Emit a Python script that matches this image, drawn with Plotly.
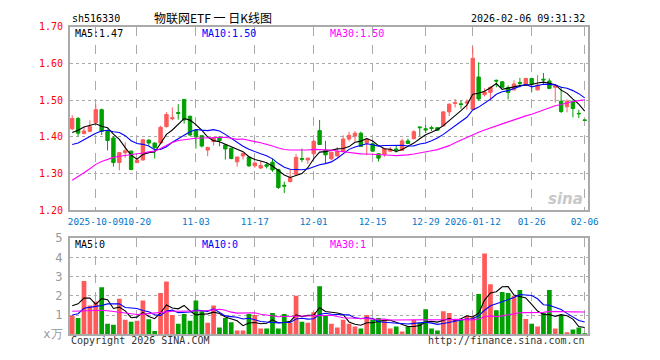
import plotly.graph_objects as go
import pandas as pd

# ---------------- data ----------------
dates = [
    "2025-09-25", "2025-09-26", "2025-09-29", "2025-09-30", "2025-10-09", "2025-10-10",
    "2025-10-13", "2025-10-14", "2025-10-15", "2025-10-16", "2025-10-17", "2025-10-20",
    "2025-10-21", "2025-10-22", "2025-10-23", "2025-10-24", "2025-10-27", "2025-10-28",
    "2025-10-29", "2025-10-30", "2025-10-31", "2025-11-03", "2025-11-04", "2025-11-05",
    "2025-11-06", "2025-11-07", "2025-11-10", "2025-11-11", "2025-11-12", "2025-11-13",
    "2025-11-14", "2025-11-17", "2025-11-18", "2025-11-19", "2025-11-20", "2025-11-21",
    "2025-11-24", "2025-11-25", "2025-11-26", "2025-11-27", "2025-11-28", "2025-12-01",
    "2025-12-02", "2025-12-03", "2025-12-04", "2025-12-05", "2025-12-08", "2025-12-09",
    "2025-12-10", "2025-12-11", "2025-12-12", "2025-12-15", "2025-12-16", "2025-12-17",
    "2025-12-18", "2025-12-19", "2025-12-22", "2025-12-23", "2025-12-24", "2025-12-26",
    "2025-12-29", "2025-12-30", "2025-12-31", "2026-01-05", "2026-01-06", "2026-01-07",
    "2026-01-08", "2026-01-09", "2026-01-12", "2026-01-13", "2026-01-14", "2026-01-15",
    "2026-01-16", "2026-01-19", "2026-01-20", "2026-01-21", "2026-01-22", "2026-01-23",
    "2026-01-26", "2026-01-27", "2026-01-28", "2026-01-29", "2026-01-30", "2026-02-02",
    "2026-02-03", "2026-02-04", "2026-02-05", "2026-02-06",
]

opens = [
    1.422, 1.450, 1.409, 1.415, 1.439, 1.474, 1.415, 1.397, 1.330, 1.357,
    1.361, 1.330, 1.337, 1.391, 1.383, 1.383, 1.428, 1.449, 1.466, 1.502,
    1.456, 1.418, 1.403, 1.364, 1.387, 1.399, 1.378, 1.369, 1.332, 1.348,
    1.345, 1.321, 1.315, 1.324, 1.331, 1.311, 1.268, 1.278, 1.298, 1.341,
    1.337, 1.354, 1.417, 1.364, 1.340, 1.348, 1.360, 1.394, 1.402, 1.410,
    1.383, 1.381, 1.354, 1.352, 1.361, 1.367, 1.363, 1.389, 1.395, 1.427,
    1.422, 1.425, 1.425, 1.430, 1.468, 1.491, 1.490, 1.492, 1.475, 1.563,
    1.515, 1.521, 1.554, 1.550, 1.534, 1.528, 1.548, 1.541, 1.559, 1.528,
    1.557, 1.552, 1.535, 1.497, 1.482, 1.497, 1.464, 1.446,
]
highs = [
    1.459, 1.454, 1.427, 1.445, 1.489, 1.477, 1.419, 1.402, 1.358, 1.385,
    1.363, 1.343, 1.394, 1.394, 1.385, 1.430, 1.467, 1.480, 1.489, 1.503,
    1.458, 1.420, 1.405, 1.373, 1.400, 1.402, 1.380, 1.370, 1.346, 1.357,
    1.347, 1.330, 1.333, 1.328, 1.341, 1.313, 1.278, 1.313, 1.353, 1.368,
    1.343, 1.390, 1.446, 1.389, 1.360, 1.372, 1.404, 1.414, 1.416, 1.414,
    1.397, 1.383, 1.356, 1.370, 1.372, 1.376, 1.395, 1.395, 1.418, 1.428,
    1.432, 1.430, 1.426, 1.470, 1.491, 1.503, 1.499, 1.502, 1.646, 1.603,
    1.532, 1.537, 1.556, 1.552, 1.540, 1.554, 1.561, 1.561, 1.561, 1.568,
    1.574, 1.559, 1.541, 1.537, 1.502, 1.499, 1.474, 1.447,
]
lows = [
    1.418, 1.401, 1.407, 1.413, 1.436, 1.405, 1.363, 1.319, 1.309, 1.343,
    1.309, 1.328, 1.335, 1.376, 1.341, 1.380, 1.425, 1.445, 1.447, 1.436,
    1.402, 1.368, 1.371, 1.347, 1.376, 1.374, 1.338, 1.339, 1.319, 1.338,
    1.318, 1.316, 1.312, 1.314, 1.305, 1.258, 1.247, 1.276, 1.296, 1.331,
    1.326, 1.339, 1.378, 1.326, 1.336, 1.346, 1.358, 1.388, 1.388, 1.373,
    1.350, 1.360, 1.333, 1.346, 1.358, 1.357, 1.362, 1.380, 1.393, 1.401,
    1.410, 1.416, 1.416, 1.428, 1.457, 1.480, 1.477, 1.474, 1.473, 1.498,
    1.510, 1.502, 1.535, 1.533, 1.502, 1.526, 1.535, 1.539, 1.521, 1.526,
    1.541, 1.530, 1.493, 1.465, 1.467, 1.453, 1.451, 1.444,
]
closes = [
    1.450, 1.410, 1.416, 1.428, 1.474, 1.415, 1.390, 1.330, 1.357, 1.362,
    1.311, 1.337, 1.392, 1.383, 1.371, 1.426, 1.461, 1.452, 1.464, 1.446,
    1.405, 1.400, 1.375, 1.371, 1.397, 1.390, 1.367, 1.341, 1.345, 1.355,
    1.321, 1.329, 1.322, 1.320, 1.310, 1.262, 1.266, 1.289, 1.344, 1.339,
    1.342, 1.388, 1.379, 1.351, 1.358, 1.360, 1.394, 1.404, 1.410, 1.374,
    1.394, 1.361, 1.342, 1.368, 1.366, 1.364, 1.389, 1.382, 1.414, 1.425,
    1.419, 1.423, 1.418, 1.468, 1.489, 1.493, 1.488, 1.495, 1.614, 1.503,
    1.522, 1.535, 1.552, 1.535, 1.521, 1.544, 1.546, 1.559, 1.544, 1.541,
    1.555, 1.532, 1.539, 1.469, 1.497, 1.477, 1.463, 1.445,
]
volumes = [  # 万
    0.97, 0.85, 2.77, 1.50, 1.70, 2.45, 0.55, 0.50, 1.85, 0.75,
    0.65, 0.70, 1.75, 0.78, 0.17, 2.15, 2.75, 1.00, 0.55, 1.05,
    0.70, 1.75, 1.20, 0.60, 1.50, 0.35, 0.85, 0.62, 0.20, 0.20,
    1.05, 1.00, 0.30, 0.30, 1.10, 0.30, 1.05, 0.60, 2.00, 0.65,
    0.60, 1.15, 2.50, 1.00, 0.55, 0.35, 0.75, 0.55, 0.40, 0.30,
    1.00, 0.75, 0.85, 0.75, 0.30, 0.40, 0.15, 0.40, 0.75, 0.60,
    1.30, 0.30, 0.20, 1.20, 1.10, 0.80, 0.75, 0.95, 0.90, 2.10,
    4.20, 2.60, 1.25, 2.20, 2.15, 2.00, 2.30, 0.80, 0.55, 0.40,
    1.10, 2.30, 0.30, 1.00, 0.10, 0.25, 0.35, 0.05,
]

# moving-average values before a full window exists
ma5_head = [1.412, 1.418, 1.427, 1.432]
ma10_head = [1.379, 1.383, 1.392, 1.401, 1.410, 1.416, 1.418, 1.414, 1.412]
ma30_head = [1.282, 1.291, 1.302, 1.313, 1.325, 1.333, 1.339, 1.344, 1.347, 1.349,
             1.351, 1.352, 1.356, 1.359, 1.361, 1.368, 1.377, 1.385, 1.390, 1.393,
             1.394, 1.396, 1.397, 1.398, 1.399, 1.399, 1.399, 1.396, 1.393]
vma5_head = [1.48, 1.58, 1.88, 1.88]
vma10_head = [1.00, 1.07, 1.35, 1.42, 1.45, 1.50, 1.58, 1.58, 1.58]
vma30_head = [1.20, 1.21, 1.22, 1.23, 1.24, 1.25, 1.22, 1.18, 1.13, 1.10,
              1.06, 1.03, 1.05, 1.08, 1.10, 1.14, 1.18, 1.20, 1.20, 1.20,
              1.20, 1.21, 1.22, 1.24, 1.27, 1.30, 1.25, 1.15, 1.10]

tick_dates = ["2025-10-09", "2025-10-20", "2025-11-03", "2025-11-17", "2025-12-01",
              "2025-12-15", "2025-12-29", "2026-01-12", "2026-01-26", "2026-02-06"]
tick_labels = ["2025-10-09", "10-20", "11-03", "11-17", "12-01",
               "12-15", "12-29", "2026-01-12", "01-26", "02-06"]
price_ticks = [1.20, 1.30, 1.40, 1.50, 1.60, 1.70]
vol_ticks = [0, 1, 2, 3, 4, 5]
vol_tick_text = ["x万", "1", "2", "3", "4", "5"]

title_code = "sh516330"
title_name = "物联网ETF 一 日K线图"
timestamp = "2026-02-06 09:31:32"
price_legend = ["MA5:1.47", "MA10:1.50", "MA30:1.50"]
vol_legend = ["MA5:0", "MA10:0", "MA30:1"]


def moving_average(values, n, head):
    out = pd.Series(values).rolling(n).mean().tolist()
    out[:n - 1] = head
    return out


ma5 = moving_average(closes, 5, ma5_head)
ma10 = moving_average(closes, 10, ma10_head)
ma30 = moving_average(closes, 30, ma30_head)
vma5 = moving_average(volumes, 5, vma5_head)
vma10 = moving_average(volumes, 10, vma10_head)
vma30 = moving_average(volumes, 30, vma30_head)

# ---------------- style ----------------
W, H = 660, 360
RED = "#ff5a5a"
GREEN = "#00a000"
MONO = "DejaVu Sans Mono"
GRID = "#aaaaaa"
X0, X1 = 70, 597.5
MAIN_TOP, MAIN_BOT = 20.5, 211.5
VOL_TOP, VOL_BOT = 240.5, 340.5


def px(x):
    return x / W


def py(y):
    return 1 - y / H


bar_colors = [RED if c >= o else GREEN for o, c in zip(opens, closes)]

fig = go.Figure()
fig.add_trace(go.Candlestick(
    x=dates, open=opens, high=highs, low=lows, close=closes,
    increasing=dict(line=dict(color=RED, width=1), fillcolor=RED),
    decreasing=dict(line=dict(color=GREEN, width=1), fillcolor=GREEN),
    whiskerwidth=0, xaxis="x", yaxis="y", hoverinfo="skip", showlegend=False,
))
for vals, col in [(ma5, "black"), (ma10, "#0000ff"), (ma30, "#ff00ff")]:
    fig.add_trace(go.Scatter(x=dates, y=vals, mode="lines", line=dict(color=col, width=1.1),
                             xaxis="x", yaxis="y", hoverinfo="skip", showlegend=False))

fig.add_trace(go.Bar(x=dates, y=volumes, marker=dict(color=bar_colors, line=dict(width=0)),
                     width=0.8, xaxis="x2", yaxis="y2", hoverinfo="skip", showlegend=False))
for vals, col in [(vma5, "black"), (vma10, "#0000ff"), (vma30, "#ff00ff")]:
    fig.add_trace(go.Scatter(x=dates, y=vals, mode="lines", line=dict(color=col, width=1.1),
                             xaxis="x2", yaxis="y2", hoverinfo="skip", showlegend=False))

xcommon = dict(
    type="category", categoryorder="array", categoryarray=dates,
    domain=[px(X0), px(X1)], range=[-0.42, 87.5],
    tickvals=tick_dates, ticktext=tick_labels, tickangle=0,
    showgrid=True, gridcolor=GRID, griddash="dash", gridwidth=1,
    showline=True, mirror=True, linecolor=GRID, linewidth=1.5,
    ticks="", zeroline=False, fixedrange=True,
)
fig.update_layout(
    width=W, height=H, autosize=False,
    margin=dict(l=0, r=0, t=0, b=0),
    paper_bgcolor="white", plot_bgcolor="white",
    boxgap=0.18,
    bargap=0.2,
    xaxis=dict(**xcommon, anchor="y", rangeslider=dict(visible=False),
               tickfont=dict(family=MONO, size=9.3, color="#0077cc"),
               ticklabelstandoff=2),
    xaxis2=dict(**xcommon, anchor="y2", matches="x", showticklabels=False),
    yaxis=dict(domain=[py(MAIN_BOT), py(MAIN_TOP)], range=[1.20, 1.70],
               tickvals=price_ticks, ticktext=[f"{v:.2f}" for v in price_ticks],
               tickfont=dict(family=MONO, size=10, color="#ff0000"),
               showgrid=True, gridcolor=GRID, griddash="dot", gridwidth=1,
               showline=True, mirror=True, linecolor=GRID, linewidth=1.5,
               ticks="", zeroline=False, fixedrange=True, anchor="x",
               ticklabelstandoff=3),
    yaxis2=dict(domain=[py(VOL_BOT), py(VOL_TOP)], range=[0, 5],
                tickvals=vol_ticks, ticktext=vol_tick_text,
                tickfont=dict(family=MONO, size=12, color="#999999"),
                showgrid=True, gridcolor=GRID, griddash="dot", gridwidth=1,
                showline=True, mirror=True, linecolor=GRID, linewidth=1.5,
                ticks="", zeroline=False, fixedrange=True, anchor="x2",
                ticklabelstandoff=3),
)

ann = []


def text(x, y, s, color="black", size=10, xanchor="left", family=MONO):
    ann.append(dict(x=px(x), y=py(y), xref="paper", yref="paper", text=s, showarrow=False,
                    xanchor=xanchor, yanchor="middle",
                    font=dict(family=family, size=size, color=color)))


text(70, 12, title_code)
text(216, 11, title_name, size=12, xanchor="center", family="Noto Sans CJK SC")
text(597, 12, timestamp, xanchor="right")
for s, x, col in zip(price_legend, [73, 203, 333], ["black", "#0000ff", "#ff00ff"]):
    text(x, 28, s, color=col)
for s, x, col in zip(vol_legend, [73, 203, 333], ["black", "#0000ff", "#ff00ff"]):
    text(x, 247, s, color=col)
text(69, 347, "Copyright 2026 SINA.COM", color="#333333")
text(597, 347, "http://finance.sina.com.cn", color="#333333", xanchor="right")
ann.append(dict(x=px(595), y=py(200), xref="paper", yref="paper", text="<b><i>sina</i></b>",
                showarrow=False, xanchor="right", yanchor="middle",
                font=dict(family="DejaVu Sans", size=15, color="#c8c8c8")))
fig.update_layout(annotations=ann)

fig.write_html("out.html")
